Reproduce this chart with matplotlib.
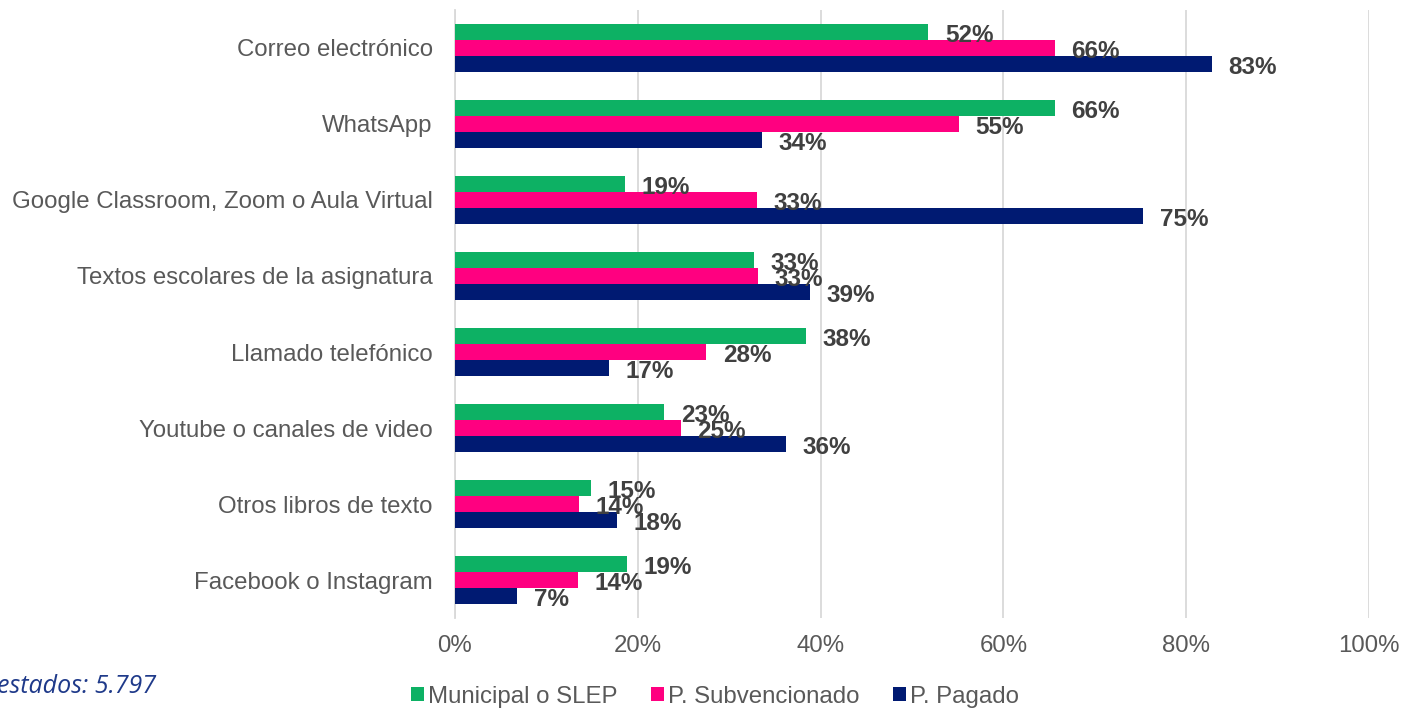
import matplotlib.pyplot as plt
import numpy as np

categorias = [
    "Correo electrónico",
    "WhatsApp",
    "Google Classroom, Zoom o Aula Virtual",
    "Textos escolares de la asignatura",
    "Llamado telefónico",
    "Youtube o canales de video",
    "Otros libros de texto",
    "Facebook o Instagram",
]
series = ["Municipal o SLEP", "P. Subvencionado", "P. Pagado"]
municipal = [51.8, 65.6, 18.6, 32.7, 38.4, 22.9, 14.9, 18.8]
subvencionado = [65.6, 55.1, 33.0, 33.2, 27.5, 24.7, 13.6, 13.5]
pagado = [82.8, 33.6, 75.3, 38.8, 16.9, 36.2, 17.7, 6.8]
xticks = [0, 20, 40, 60, 80, 100]
nota = "estados: 5.797"

colores = ["#0DB164", "#FF0080", "#001A72"]

plt.rcParams["font.family"] = ["Liberation Sans", "DejaVu Sans"]

fig = plt.figure(figsize=(14.02, 7.08), dpi=100)
ax = fig.add_axes([0.3245, 0.127, 0.652, 0.859])

y = np.arange(len(categorias))
h = 0.21
for k, (vals, col, nom) in enumerate(zip([municipal, subvencionado, pagado], colores, series)):
    pos = y + (k - 1) * h
    ax.barh(pos, vals, height=h, color=col, label=nom, zorder=3)
    for p, v in zip(pos, vals):
        ax.text(v + 1.8, p + 0.05, f"{round(v)}%", ha="left", va="center",
                fontsize=17.5, fontweight="bold", color="#404040", zorder=4)

ax.set_ylim(len(categorias) - 0.5, -0.5)
ax.set_xlim(0, 100)
ax.set_yticks(y)
ax.set_yticklabels(categorias, fontsize=17.3, color="#595959")
ax.set_xticks(xticks)
ax.set_xticklabels([f"{t}%" for t in xticks], fontsize=17.3, color="#595959")
ax.tick_params(axis="y", length=0, pad=16)
ax.tick_params(axis="x", length=0, pad=12)
ax.grid(axis="x", color="#D9D9D9", linewidth=1.3, zorder=0)
for s in ["top", "right", "bottom"]:
    ax.spines[s].set_visible(False)
ax.spines["left"].set_color("#D9D9D9")
ax.spines["left"].set_linewidth(1.3)

leg = fig.legend(loc="lower center", bbox_to_anchor=(0.51, -0.03), ncol=3, frameon=False,
                 fontsize=17.3, handlelength=0.55, handleheight=0.55, handletextpad=0.15,
                 columnspacing=1.4)
for t in leg.get_texts():
    t.set_color("#595959")

fig.text(-0.002, 0.03, nota, fontsize=18, style="italic", color="#1F3A8A",
         family=["Open Sans", "DejaVu Sans"], ha="left", va="center")

fig.savefig("out.png", dpi=100)
